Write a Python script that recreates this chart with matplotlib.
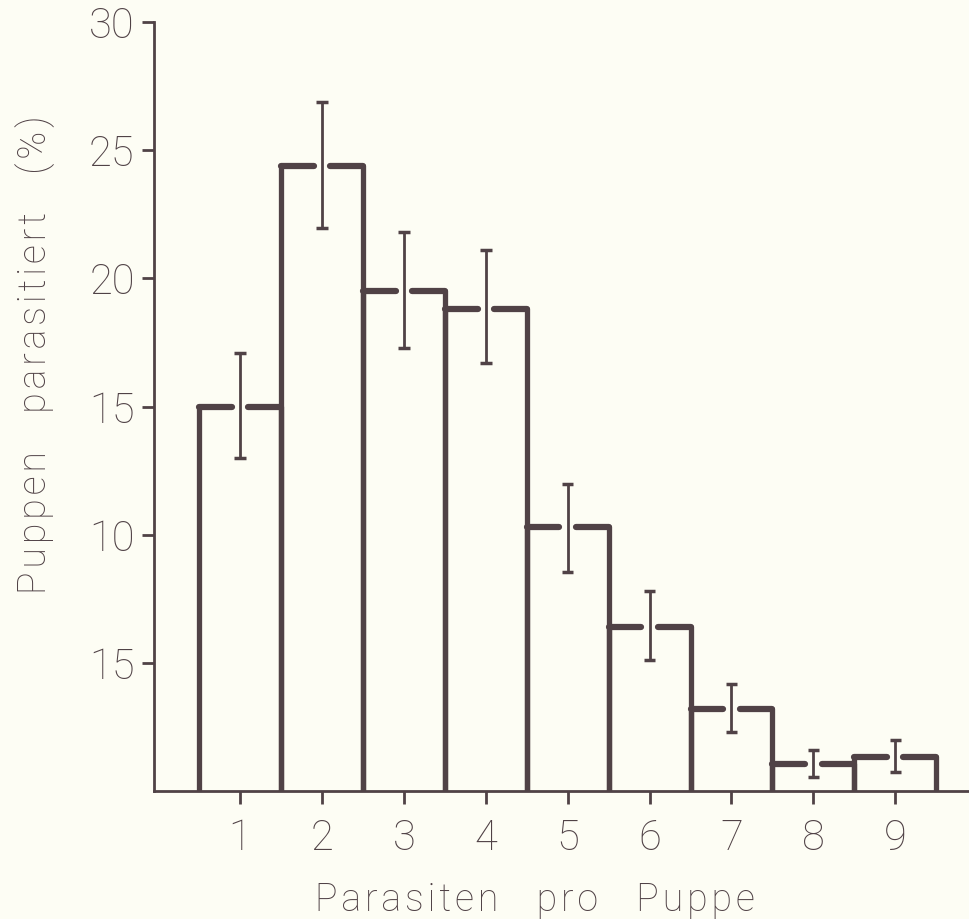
import matplotlib
matplotlib.use("Agg")
import matplotlib.pyplot as plt
import numpy as np

categories = [1, 2, 3, 4, 5, 6, 7, 8, 9]
values = [15.0, 24.4, 19.5, 18.8, 10.3, 6.4, 3.2, 1.05, 1.35]
err_low = [13.0, 21.95, 17.3, 16.7, 8.55, 5.1, 2.3, 0.55, 0.75]
err_high = [17.1, 26.9, 21.8, 21.1, 12.0, 7.8, 4.2, 1.6, 2.0]
yticks = [5, 10, 15, 20, 25, 30]
ytick_labels = ["15", "10", "15", "20", "25", "30"]
xlabel_text = "Parasiten pro Puppe"
ylabel_text = "Puppen parasitiert (%)"

ink = "#504246"
bg = "#fdfdf4"
plt.rcParams['font.family'] = ['Roboto', 'DejaVu Sans']


def spaced(s):
    words = s.split(" ")
    return "\u2003".join("\u200a".join(w) for w in words)


fig = plt.figure(figsize=(9.69, 9.19), dpi=100)
fig.patch.set_facecolor(bg)
ax = fig.add_axes([0.159, 0.139, 0.841, 0.837])
ax.set_facecolor(bg)

x = np.array(categories, dtype=float)
v = np.array(values)
half = 0.5
gap = 0.1
ax.vlines(np.concatenate([x - half, x + half]), 0, np.concatenate([v, v]),
          color=ink, lw=3.8, capstyle='round', zorder=3)
ax.hlines(v, x - half, x - gap, color=ink, lw=4.5, capstyle='round', zorder=3)
ax.hlines(v, x + gap, x + half, color=ink, lw=4.5, capstyle='round', zorder=3)
ax.vlines(x, err_low, err_high, color=ink, lw=2.0, zorder=4)
ax.hlines(err_low, x - 0.07, x + 0.07, color=ink, lw=2.5, zorder=4)
ax.hlines(err_high, x - 0.07, x + 0.07, color=ink, lw=2.5, zorder=4)

ax.set_xlim(-0.05, 9.9)
ax.set_ylim(0, 30)
for s in ['top', 'right']:
    ax.spines[s].set_visible(False)
for s in ['left', 'bottom']:
    ax.spines[s].set_color(ink)
    ax.spines[s].set_linewidth(2.0)

ax.set_xticks(categories)
ax.set_xticklabels([str(c) for c in categories])
ax.set_yticks(yticks)
ax.set_yticklabels(ytick_labels)
ax.tick_params(axis='both', colors=ink, labelcolor=ink, width=2, length=9,
               labelsize=30, direction='out')
ax.tick_params(axis='x', pad=10)
ax.tick_params(axis='y', pad=5)
for lab in ax.get_xticklabels() + ax.get_yticklabels():
    lab.set_fontweight('light')

ax.set_xlabel(spaced(xlabel_text), fontsize=27, color=ink, fontweight='light')
ax.set_ylabel(spaced(ylabel_text), fontsize=27, color=ink, fontweight='light')
ax.xaxis.set_label_coords(0.467, -0.117)
ax.yaxis.set_label_coords(-0.121, 0.567)

fig.savefig("out.png", dpi=100, facecolor=bg)
